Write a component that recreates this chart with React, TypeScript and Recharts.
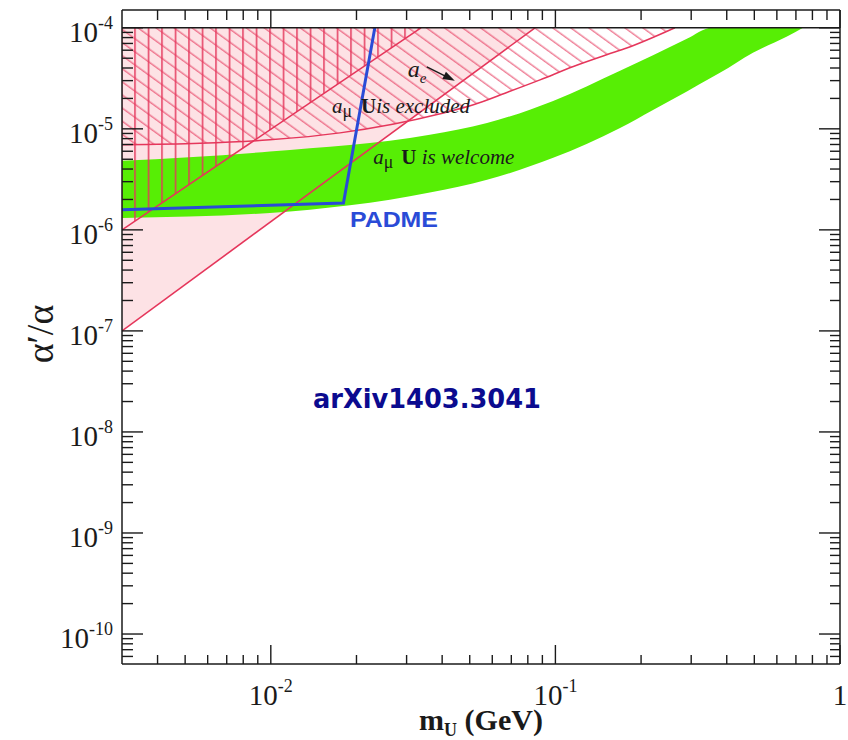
import React from "react";
import {
  ComposedChart,
  Area,
  Line,
  XAxis,
  YAxis,
  ReferenceLine,
  ReferenceDot,
  Label,
} from "recharts";

// ---- chart size & ranges ----
const W = 848;
const H = 740;
const X_DOMAIN: [number, number] = [0.003, 1];
const Y_DOMAIN: [number, number] = [5.05e-11, 1.5e-4];
const Y_CEIL = 1e-4;

// ---- tick layout (log decades) ----
const X_TICK_DECADES = [-3, -2, -1];
const Y_TICK_DECADES = [-11, -10, -9, -8, -7, -6, -5];
const MANTISSAS = [1, 2, 3, 4, 5, 6, 7, 8, 9];

// ---- a_e bounds (straight lines in log-log) ----
const aeLowerX = [0.003, 0.0848];
const aeLowerY = [1e-7, 1e-4];
const aeUpperX = [0.003, 0.0337];
const aeUpperY = [1e-6, 1e-4];

// ---- a_mu exclusion curve ----
const amuExclX = [0.003, 0.00564, 0.00993, 0.0175, 0.0394, 0.0515, 0.0675, 0.0883, 0.1156, 0.1514, 0.178, 0.263];
const amuExclY = [6.95e-6, 7.18e-6, 7.78e-6, 9.12e-6, 1.41e-5, 1.73e-5, 2.29e-5, 3.05e-5, 4.14e-5, 5.41e-5, 6.3e-5, 1e-4];

// ---- a_mu "welcome" band ----
const bandX = [0.003, 0.00993, 0.0362, 0.0575, 0.0982, 0.1687, 0.2203, 0.2897, 0.3548, 0.3785, 0.4943, 0.6513, 0.7413];
const bandLow = [1.31e-6, 1.47e-6, 2.34e-6, 3.13e-6, 5.16e-6, 1.02e-5, 1.54e-5, 2.34e-5, 3.24e-5, 3.58e-5, 5.65e-5, 8.2e-5, 1e-4];
const bandHigh = [4.82e-6, 5.96e-6, 8.73e-6, 1.14e-5, 1.89e-5, 3.75e-5, 5.35e-5, 7.78e-5, 1e-4, 1e-4, 1e-4, 1e-4, 1e-4];

// ---- PADME sensitivity ----
const padmeX = [0.003, 0.018, 0.0232];
const padmeY = [1.58e-6, 1.84e-6, 1e-4];

// ---- colours & fonts ----
const INK = "#1a1a1a";
const RED = "#e5365b";
const PINK = "#fde2e5";
const GREEN = "#57ee05";
const BLUE = "#2a4bd7";
const NAVY = "#0b0b8f";
const SERIF = "'Liberation Serif', 'Times New Roman', serif";
const SANS = "'Liberation Sans', Arial, sans-serif";

const buildTicks = (decades: number[], lo: number, hi: number, extra: number[]) => {
  const out: number[] = [];
  decades.forEach((d) =>
    MANTISSAS.forEach((m) => {
      const v = m * Math.pow(10, d);
      if (v > lo * 1.0001 && v <= hi * 1.0001) out.push(v);
    })
  );
  return out.concat(extra);
};
const xTicks = buildTicks(X_TICK_DECADES, X_DOMAIN[0], X_DOMAIN[1], [1]);
const yTicks = buildTicks(Y_TICK_DECADES, Y_DOMAIN[0], Y_CEIL, [Y_CEIL]);

const pts = (xs: number[], ys: number[]) => xs.map((x, i) => ({ x, y: ys[i] }));
const band = (xs: number[], lo: number[], hi: number[]) => xs.map((x, i) => ({ x, r: [lo[i], hi[i]] }));
const toCeil = (xs: number[], ys: number[]) => xs.map((x, i) => ({ x, r: [ys[i], Y_CEIL] }));

const isMajor = (v: number) => {
  const l = Math.log10(v);
  return Math.abs(l - Math.round(l)) < 1e-6;
};
const expOf = (v: number) => Math.round(Math.log10(v));

const Pow10 = ({ x, y, exp, anchor }: { x: number; y: number; exp: number; anchor: "start" | "middle" | "end" }) => (
  <text x={x} y={y} textAnchor={anchor} fontFamily={SERIF} fontSize={29} fill={INK}>
    {exp === 0 ? (
      "1"
    ) : (
      <>
        10
        <tspan dy={-13} fontSize={18}>{`-${-exp}`}</tspan>
      </>
    )}
  </text>
);

const LeftTick = (p: any) => {
  const { x, y, payload } = p;
  const major = isMajor(payload.value);
  return (
    <g>
      <line x1={x} y1={y} x2={x + (major ? 21 : 11)} y2={y} stroke={INK} strokeWidth={1.4} />
      {major && <Pow10 x={x - 9} y={y + 14} exp={expOf(payload.value)} anchor="end" />}
    </g>
  );
};

const RightTick = (p: any) => {
  const { x, y, payload } = p;
  const major = isMajor(payload.value);
  return <line x1={x} y1={y} x2={x - (major ? 21 : 10)} y2={y} stroke={INK} strokeWidth={1.4} />;
};

const BottomTick = (p: any) => {
  const { x, y, payload } = p;
  const major = isMajor(payload.value);
  return (
    <g>
      <line x1={x} y1={y} x2={x} y2={y - (major ? 19 : 9)} stroke={INK} strokeWidth={1.4} />
      {major && <Pow10 x={x} y={y + 41} exp={expOf(payload.value)} anchor="middle" />}
    </g>
  );
};

const TopTick = (p: any) => {
  const { x, y, payload } = p;
  const major = isMajor(payload.value);
  return <line x1={x} y1={y} x2={x} y2={y + (major ? 18 : 10)} stroke={INK} strokeWidth={1.4} />;
};

const YTitle = (props: any) => {
  const vb = props.viewBox || { x: 0, y: 10, width: 122, height: 654 };
  const cx = vb.x + 53;
  const cy = vb.y + vb.height / 2 - 3;
  return (
    <text x={cx} y={cy} transform={`rotate(-90 ${cx} ${cy})`} textAnchor="middle" fontFamily={SERIF} fontSize={38} fill={INK}>
      α′/α
    </text>
  );
};

const XTitle = (props: any) => {
  const vb = props.viewBox || { x: 122, y: 664, width: 718, height: 76 };
  const cx = vb.x + vb.width / 2;
  const by = vb.y + 66;
  return (
    <text x={cx} y={by} textAnchor="middle" fontFamily={SERIF} fontWeight="bold" fontSize={30} fill={INK}>
      m<tspan fontSize={18} dy={6}>U</tspan>
      <tspan dy={-6}> (GeV)</tspan>
    </text>
  );
};

// annotation shapes, anchored at a data point (text start / baseline)
const AeNote = ({ cx, cy }: any) => (
  <g transform={`translate(${cx},${cy})`}>
    <text x={0} y={0} fontFamily={SERIF} fontStyle="italic" fontSize={24} fill={INK}>
      a<tspan fontSize={15} dy={6}>e</tspan>
    </text>
    <line x1={19} y1={-10} x2={38} y2={-0.5} stroke={INK} strokeWidth={1.3} />
    <path d="M47,4 L38.1,-5 L34.5,2.2 Z" fill={INK} />
  </g>
);

const AmuNote = ({ cx, cy, size, gapU, rest }: any) => (
  <text x={cx} y={cy} fontFamily={SERIF} fontSize={size} fill={INK}>
    <tspan fontStyle="italic">a</tspan>
    <tspan fontSize={size * 0.85} dy={4}>μ</tspan>
    <tspan dy={-4} dx={gapU} fontWeight="bold">U</tspan>
    <tspan fontStyle="italic">{rest}</tspan>
  </text>
);

const PadmeNote = ({ cx, cy }: any) => (
  <text x={cx} y={cy} fontFamily={SANS} fontWeight="bold" fontSize={22} fill={BLUE} textLength={88} lengthAdjust="spacingAndGlyphs">
    PADME
  </text>
);

const RefNote = ({ cx, cy }: any) => (
  <text x={cx} y={cy} fontFamily="'DejaVu Sans', sans-serif" fontWeight="bold" fontSize={26} fill={NAVY} textLength={228} lengthAdjust="spacingAndGlyphs">
    arXiv1403.3041
  </text>
);

const AX = { xAxisId: "b", yAxisId: "l" } as const;

export default function App() {
  return (
    <div style={{ position: "absolute", left: 0, top: 0, width: W, height: H, background: "#fff" }}>
      <ComposedChart width={W} height={H} margin={{ top: 0, right: 0, bottom: 0, left: 0 }}>
        <defs>
          <pattern id="vHatch" patternUnits="userSpaceOnUse" width={13.5} height={20} x={-0.8} y={0}>
            <line x1={0.8} y1={0} x2={0.8} y2={20} stroke={RED} strokeWidth={1.6} strokeOpacity={0.9} />
          </pattern>
          <pattern id="dHatch" patternUnits="userSpaceOnUse" width={20} height={10.6} patternTransform="rotate(36)">
            <line x1={0} y1={5} x2={20} y2={5} stroke={RED} strokeWidth={1.1} strokeOpacity={0.85} />
          </pattern>
        </defs>

        <XAxis
          xAxisId="b"
          orientation="bottom"
          type="number"
          dataKey="x"
          scale="log"
          domain={X_DOMAIN}
          allowDataOverflow
          ticks={xTicks}
          interval={0}
          height={76}
          tickSize={0}
          tickMargin={0}
          tickLine={false}
          tick={(p: any) => <BottomTick {...p} />}
          axisLine={{ stroke: INK, strokeWidth: 1.5 }}
        >
          <Label content={XTitle} />
        </XAxis>
        <XAxis
          xAxisId="t"
          orientation="top"
          type="number"
          dataKey="x"
          scale="log"
          domain={X_DOMAIN}
          allowDataOverflow
          ticks={xTicks}
          interval={0}
          height={10}
          tickSize={0}
          tickMargin={0}
          tickLine={false}
          tick={(p: any) => <TopTick {...p} />}
          axisLine={{ stroke: INK, strokeWidth: 1.5 }}
        />
        <YAxis
          yAxisId="l"
          orientation="left"
          type="number"
          scale="log"
          domain={Y_DOMAIN}
          allowDataOverflow
          ticks={yTicks}
          interval={0}
          width={122}
          tickSize={0}
          tickMargin={0}
          tickLine={false}
          tick={(p: any) => <LeftTick {...p} />}
          axisLine={{ stroke: INK, strokeWidth: 1.5 }}
        >
          <Label content={YTitle} />
        </YAxis>
        <YAxis
          yAxisId="r"
          orientation="right"
          type="number"
          scale="log"
          domain={Y_DOMAIN}
          allowDataOverflow
          ticks={yTicks}
          interval={0}
          width={8}
          tickSize={0}
          tickMargin={0}
          tickLine={false}
          tick={(p: any) => <RightTick {...p} />}
          axisLine={{ stroke: INK, strokeWidth: 1.5 }}
        />

        {/* excluded by a_e (pink) */}
        <Area {...AX} data={toCeil(aeLowerX, aeLowerY)} dataKey="r" type="linear" fill={PINK} fillOpacity={1} stroke="none" isAnimationActive={false} />
        {/* a_mu welcome band */}
        <Area {...AX} data={band(bandX, bandLow, bandHigh)} dataKey="r" type="monotone" fill={GREEN} fillOpacity={1} stroke="none" isAnimationActive={false} />
        {/* vertical hatch above the upper a_e line */}
        <Area {...AX} data={toCeil(aeUpperX, aeUpperY)} dataKey="r" type="linear" fill="url(#vHatch)" fillOpacity={1} stroke="none" isAnimationActive={false} />
        {/* diagonal hatch: a_mu excluded */}
        <Area {...AX} data={toCeil(amuExclX, amuExclY)} dataKey="r" type="monotone" fill="url(#dHatch)" fillOpacity={1} stroke="none" isAnimationActive={false} />

        <Line {...AX} data={pts(aeLowerX, aeLowerY)} dataKey="y" type="linear" stroke={RED} strokeWidth={1.6} dot={false} activeDot={false} isAnimationActive={false} />
        <Line {...AX} data={pts(aeUpperX, aeUpperY)} dataKey="y" type="linear" stroke={RED} strokeWidth={1.6} dot={false} activeDot={false} isAnimationActive={false} />
        <Line {...AX} data={pts(amuExclX, amuExclY)} dataKey="y" type="monotone" stroke={RED} strokeWidth={1.5} dot={false} activeDot={false} isAnimationActive={false} />
        <Line {...AX} data={pts(padmeX, padmeY)} dataKey="y" type="linear" stroke={BLUE} strokeWidth={3} dot={false} activeDot={false} isAnimationActive={false} />

        <ReferenceLine {...AX} y={Y_CEIL} stroke={INK} strokeWidth={1.5} />

        <ReferenceDot {...AX} x={0.0303} y={3.27e-5} r={0} shape={(p: any) => <AeNote {...p} />} />
        <ReferenceDot {...AX} x={0.0164} y={1.44e-5} r={0} shape={(p: any) => <AmuNote {...p} size={21} gapU={9} rest="is excluded" />} />
        <ReferenceDot {...AX} x={0.0229} y={4.5e-6} r={0} shape={(p: any) => <AmuNote {...p} size={21} gapU={8} rest=" is welcome" />} />
        <ReferenceDot {...AX} x={0.01897} y={1.07e-6} r={0} shape={(p: any) => <PadmeNote {...p} />} />
        <ReferenceDot {...AX} x={0.01406} y={1.73e-8} r={0} shape={(p: any) => <RefNote {...p} />} />
      </ComposedChart>
    </div>
  );
}
